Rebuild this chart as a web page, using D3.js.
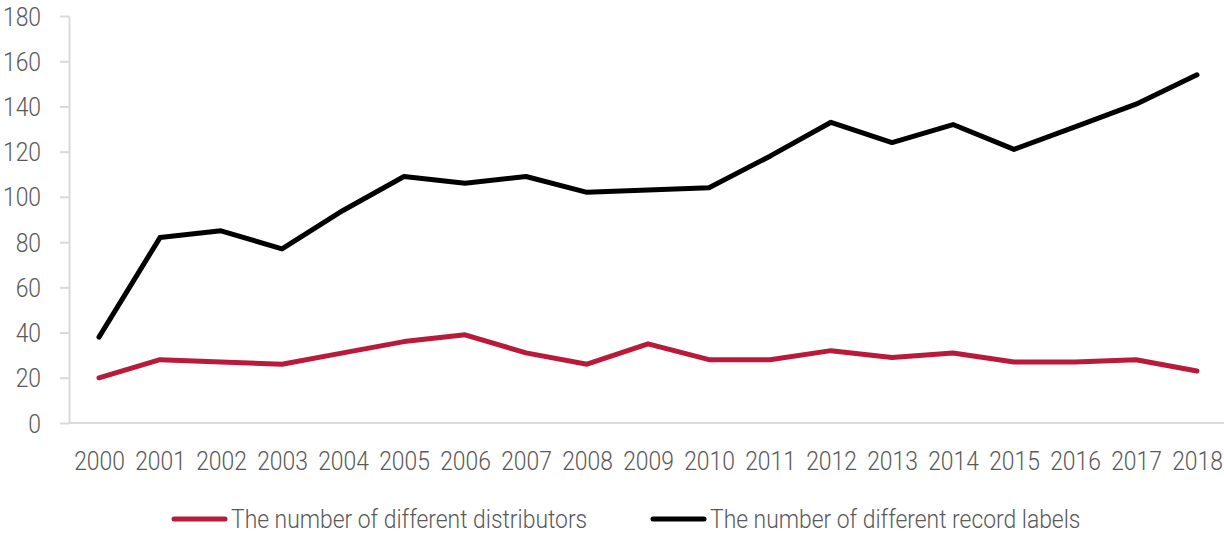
<!DOCTYPE html>
<html>
<head>
<meta charset="utf-8">
<script src="https://cdn.jsdelivr.net/npm/d3@7"></script>
<style>
  html, body { margin: 0; padding: 0; background: #fff; }
  svg text { font-family: Roboto, "Liberation Sans", sans-serif; font-weight: 300; fill: #595959; }
</style>
</head>
<body>
<svg id="chart" width="1224" height="533"></svg>
<script>
const years = ["2000","2001","2002","2003","2004","2005","2006","2007","2008","2009",
               "2010","2011","2012","2013","2014","2015","2016","2017","2018"];
const distributors = [20, 28, 27, 26, 31, 36, 39, 31, 26, 35, 28, 28, 32, 29, 31, 27, 27, 28, 23];
const recordLabels = [38, 82, 85, 77, 94, 109, 106, 109, 102, 103, 104, 118, 133, 124, 132, 121, 131, 141, 154];
const yTicks = [0, 20, 40, 60, 80, 100, 120, 140, 160, 180];
const seriesNames = ["The number of different distributors", "The number of different record labels"];
const seriesColors = ["#BA1A3A", "#000000"];

const svg = d3.select("#chart");
const margin = { left: 69 };
const width = 1224;

const x = d3.scalePoint().domain(years).range([99, 1197]);
const y = d3.scaleLinear().domain([0, 180]).range([423, 16]);

// narrow the glyphs to a condensed look
const condense = 0.88;
const fontSize = "26px";

// Y axis
const yAxis = svg.append("g").attr("transform", `translate(${margin.left},0)`)
  .call(d3.axisLeft(y).tickValues(yTicks).tickSize(9).tickSizeOuter(0).tickPadding(0));
yAxis.select(".domain").attr("stroke", "#d9d9d9").attr("stroke-width", 2);
yAxis.selectAll(".tick line").attr("stroke", "#d9d9d9").attr("stroke-width", 2);
yAxis.selectAll(".tick text")
  .attr("x", null).attr("dy", "0.35em")
  .style("font-size", fontSize)
  .attr("text-anchor", "end")
  .attr("transform", `translate(-28,0) scale(${condense},1)`);

// X axis
const xAxis = svg.append("g").attr("transform", `translate(0,423)`)
  .call(d3.axisBottom(x).tickSize(0).tickSizeOuter(0).tickPadding(0));
xAxis.select(".domain").attr("d", `M${margin.left},0H${width}`).attr("stroke", "#d9d9d9").attr("stroke-width", 2);
xAxis.selectAll(".tick text")
  .attr("y", null).attr("dy", "0.35em")
  .style("font-size", fontSize)
  .attr("text-anchor", "middle")
  .attr("transform", `translate(0,38) scale(${condense},1)`);

// Lines
const line = d3.line().x((d, i) => x(years[i])).y(d => y(d));
[distributors, recordLabels].forEach((s, k) => {
  svg.append("path").datum(s)
    .attr("fill", "none")
    .attr("stroke", seriesColors[k])
    .attr("stroke-width", 5)
    .attr("stroke-linejoin", "round")
    .attr("stroke-linecap", "round")
    .attr("d", line);
});

// Legend
const legendX = [172, 651];
seriesNames.forEach((name, k) => {
  const g = svg.append("g").attr("transform", `translate(${legendX[k]},519)`);
  g.append("line").attr("x1", 2).attr("x2", 53).attr("y1", 0).attr("y2", 0)
    .attr("stroke", seriesColors[k]).attr("stroke-width", 5).attr("stroke-linecap", "round");
  g.append("text").attr("x", 0).attr("y", 0).attr("dy", "0.35em")
    .style("font-size", fontSize)
    .attr("transform", `translate(59,0) scale(${condense},1)`)
    .text(name);
});
</script>
</body>
</html>
